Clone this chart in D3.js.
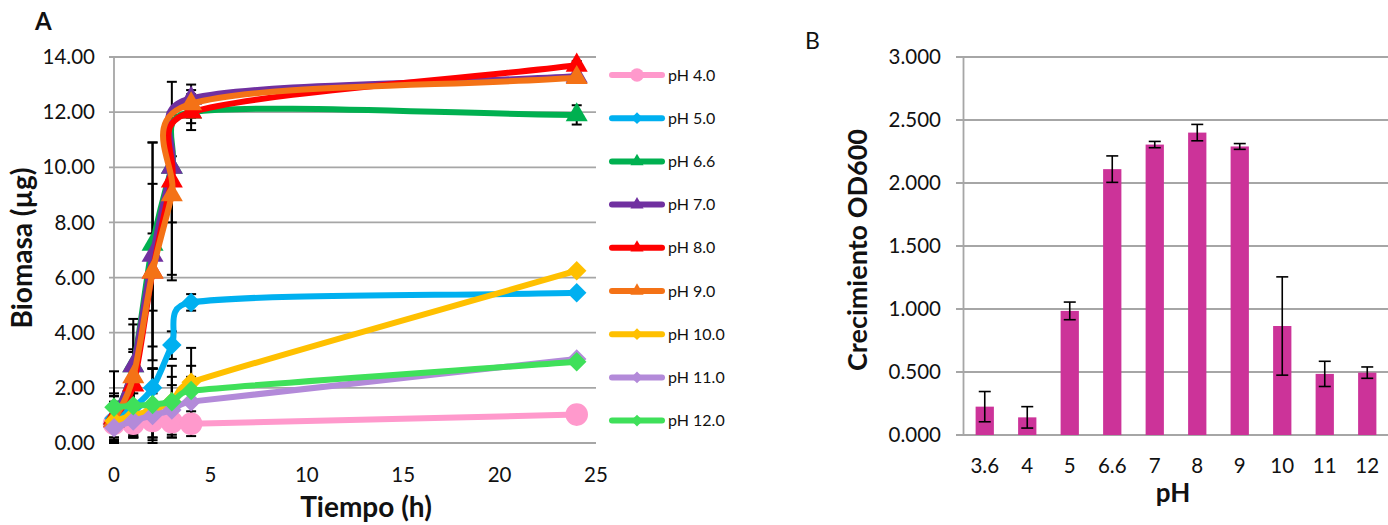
<!DOCTYPE html>
<html>
<head>
<meta charset="utf-8">
<script src="https://cdn.jsdelivr.net/npm/d3@7"></script>
<style>
  body { margin: 0; background: #fff; }
  text { font-family: Lato, "Open Sans", sans-serif; fill: #111; }
</style>
</head>
<body>
<div id="chart"></div>
<script>
// panel A data: biomass over time for each pH
var times = [0, 1, 2, 3, 4, 24];
var seriesNames = ["pH 4.0", "pH 5.0", "pH 6.6", "pH 7.0", "pH 8.0", "pH 9.0", "pH 10.0", "pH 11.0", "pH 12.0"];
var ph40 = [0.70, 0.70, 0.80, 0.75, 0.70, 1.03];
var ph50 = [0.90, 1.30, 2.00, 3.55, 5.10, 5.45];
var ph66 = [0.90, 2.80, 7.20, 10.0, 12.0, 11.9];
var ph70 = [0.80, 2.80, 6.80, 10.0, 12.5, 13.3];
var ph80 = [0.90, 2.10, 6.20, 9.50, 12.0, 13.7];
var ph90 = [0.80, 2.40, 6.20, 9.00, 12.3, 13.25];
var ph100 = [0.80, 1.00, 1.20, 1.50, 2.20, 6.25];
var ph110 = [0.55, 0.80, 1.00, 1.20, 1.50, 3.05];
var ph120 = [1.30, 1.35, 1.40, 1.50, 1.90, 2.95];
var err40 = [0.50, 0.50, 0.60, 0.55, 0.45, 0.10];
var err50 = [0.80, 1.00, 0.70, 0.50, 0.30, 0.10];
var err66 = [0.90, 1.70, 3.70, 2.00, 0.65, 0.35];
var err70 = [0.90, 1.50, 4.10, 0.40, 0.50, 0.10];
var err80 = [0.80, 1.20, 3.20, 3.60, 0.40, 0.15];
var err90 = [0.70, 1.00, 1.40, 2.90, 0.50, 0.10];
var err100 = [0.60, 0.80, 1.50, 0.90, 1.25, 0.10];
var err110 = [0.50, 0.60, 0.80, 0.90, 0.90, 0.10];
var err120 = [1.30, 1.10, 1.30, 1.30, 0.90, 0.10];
var seriesValues = [ph40, ph50, ph66, ph70, ph80, ph90, ph100, ph110, ph120];
var seriesErrors = [err40, err50, err66, err70, err80, err90, err100, err110, err120];
var yTicksA = [0, 2, 4, 6, 8, 10, 12, 14];
var xTicksA = [0, 5, 10, 15, 20, 25];

// panel B data: growth OD600 by pH
var phLabels = ["3.6", "4", "5", "6.6", "7", "8", "9", "10", "11", "12"];
var growth = [0.225, 0.140, 0.985, 2.110, 2.305, 2.400, 2.290, 0.865, 0.485, 0.495];
var growthErr = [0.120, 0.085, 0.070, 0.105, 0.025, 0.065, 0.023, 0.390, 0.100, 0.045];
var yTicksB = [0, 0.5, 1, 1.5, 2, 2.5, 3];

// styles
var colors = ["#ff99cc", "#00b0f0", "#00b050", "#7030a0", "#ff0000", "#f47216", "#ffc000", "#b38ad9", "#3fe05a"];
var shapes = ["circle", "diamond", "triangle", "triangle", "triangle", "triangle", "diamond", "diamond", "diamond"];

var svg = d3.select("#chart").append("svg")
    .attr("width", 1388)
    .attr("height", 525);

var gridColor = "#a6a6a6";

// ---------- panel A ----------
var xA = d3.scaleLinear().domain([0, 25]).range([114, 596]);
var yA = d3.scaleLinear().domain([0, 14]).range([443, 57]);

var gA = svg.append("g");

gA.selectAll(".gridA").data(yTicksA).enter().append("line")
    .attr("x1", xA(0) - 5).attr("x2", xA(25))
    .attr("y1", function(d) { return yA(d); })
    .attr("y2", function(d) { return yA(d); })
    .attr("stroke", gridColor).attr("stroke-width", 1.8);

gA.append("line")
    .attr("x1", xA(0)).attr("x2", xA(0))
    .attr("y1", yA(14)).attr("y2", yA(0))
    .attr("stroke", gridColor).attr("stroke-width", 1.8);

gA.selectAll(".ytA").data(yTicksA).enter().append("text")
    .attr("x", 95).attr("y", function(d) { return yA(d); })
    .attr("dy", "0.35em").attr("text-anchor", "end")
    .attr("font-size", "20.5px")
    .text(function(d) { return d3.format(".2f")(d); });

gA.selectAll(".xtA").data(xTicksA).enter().append("text")
    .attr("x", function(d) { return xA(d); }).attr("y", 475)
    .attr("dy", "0.35em").attr("text-anchor", "middle")
    .attr("font-size", "20.5px")
    .text(function(d) { return d; });

gA.append("text")
    .attr("x", 366).attr("y", 517)
    .attr("text-anchor", "middle")
    .attr("font-size", "28px").attr("font-weight", "bold")
    .text("Tiempo (h)");

gA.append("text")
    .attr("transform", "translate(32,248) rotate(-90)")
    .attr("text-anchor", "middle")
    .attr("font-size", "28px").attr("font-weight", "bold")
    .text("Biomasa (µg)");

gA.append("text")
    .attr("x", 35).attr("y", 30)
    .attr("font-size", "24px").attr("font-weight", "bold")
    .text("A");

// error bars (below the lines)
seriesValues.forEach(function(vals, s) {
    var errs = seriesErrors[s];
    times.forEach(function(t, i) {
        var x = xA(t),
            lo = Math.max(0, vals[i] - errs[i]),
            hi = vals[i] + errs[i];
        gA.append("line")
            .attr("x1", x).attr("x2", x)
            .attr("y1", yA(lo)).attr("y2", yA(hi))
            .attr("stroke", "#000").attr("stroke-width", 2);
        [lo, hi].forEach(function(v) {
            gA.append("line")
                .attr("x1", x - 5).attr("x2", x + 5)
                .attr("y1", yA(v)).attr("y2", yA(v))
                .attr("stroke", "#000").attr("stroke-width", 2);
        });
    });
});

// spreadsheet-like smoothed line: bezier with tangents from neighbours,
// handle length limited by the adjacent segment length
function smoothPath(pts) {
    var n = pts.length, p = d3.path();
    function sub(a, b) { return [a[0] - b[0], a[1] - b[1]]; }
    function len(v) { return Math.sqrt(v[0] * v[0] + v[1] * v[1]); }
    function tangent(i) {
        if (i == 0) return sub(pts[1], pts[0]);
        if (i == n - 1) return sub(pts[n - 1], pts[n - 2]);
        return sub(pts[i + 1], pts[i - 1]);
    }
    function handle(i, segLen) {
        var t = tangent(i), l = len(t) || 1;
        var h = (i == 0 || i == n - 1) ? segLen / 3 : Math.min(l / 6, 0.6 * segLen);
        return [t[0] / l * h, t[1] / l * h];
    }
    p.moveTo(pts[0][0], pts[0][1]);
    for (var i = 0; i < n - 1; i++) {
        var seg = len(sub(pts[i + 1], pts[i]));
        var h1 = handle(i, seg), h2 = handle(i + 1, seg);
        p.bezierCurveTo(pts[i][0] + h1[0], pts[i][1] + h1[1],
            pts[i + 1][0] - h2[0], pts[i + 1][1] - h2[1],
            pts[i + 1][0], pts[i + 1][1]);
    }
    return p.toString();
}

function markerPath(shape, big) {
    var k = big ? 1 : 0.6;
    if (shape == "circle") return d3.symbol().type(d3.symbolCircle).size(400 * k * k)();
    if (shape == "diamond") return d3.symbol().type(d3.symbolSquare).size(190 * k * k)();
    return d3.symbol().type(d3.symbolTriangle).size(210 * k * k)();
}

seriesValues.forEach(function(vals, s) {
    var pts = times.map(function(t, i) { return [t, vals[i]]; });
    gA.append("path")
        .attr("d", smoothPath(pts.map(function(d) { return [xA(d[0]), yA(d[1])]; })))
        .attr("fill", "none")
        .attr("stroke", colors[s])
        .attr("stroke-width", 6)
        .attr("stroke-linecap", "round")
        .attr("stroke-linejoin", "round");
    gA.selectAll(".m" + s).data(pts).enter().append("path")
        .attr("d", markerPath(shapes[s], true))
        .attr("transform", function(d) {
            var rot = shapes[s] == "diamond" ? " rotate(45)" : "";
            return "translate(" + xA(d[0]) + "," + yA(d[1]) + ")" + rot;
        })
        .attr("fill", colors[s]);
});

// legend
var legend = gA.selectAll(".legend").data(seriesNames).enter().append("g")
    .attr("transform", function(d, i) { return "translate(609," + (75 + i * 43.2) + ")"; });

legend.append("line")
    .attr("x1", 3).attr("x2", 53)
    .attr("stroke", function(d, i) { return colors[i]; })
    .attr("stroke-width", 6)
    .attr("stroke-linecap", "round");

legend.append("path")
    .attr("d", function(d, i) { return markerPath(shapes[i], false); })
    .attr("transform", function(d, i) { return "translate(28,0)" + (shapes[i] == "diamond" ? " rotate(45)" : ""); })
    .attr("fill", function(d, i) { return colors[i]; });

legend.append("text")
    .attr("x", 59).attr("dy", "0.35em")
    .attr("font-size", "16px")
    .text(function(d) { return d; });

// ---------- panel B ----------
var xB = d3.scaleBand().domain(phLabels).range([963.5, 1388.5]).paddingInner(0.57).paddingOuter(0.285);
var yB = d3.scaleLinear().domain([0, 3]).range([435, 57]);

var gB = svg.append("g");

gB.selectAll(".gridB").data(yTicksB).enter().append("line")
    .attr("x1", 956).attr("x2", 1388)
    .attr("y1", function(d) { return yB(d); })
    .attr("y2", function(d) { return yB(d); })
    .attr("stroke", gridColor).attr("stroke-width", 1.8);

gB.append("line")
    .attr("x1", 963.5).attr("x2", 963.5)
    .attr("y1", yB(3)).attr("y2", yB(0))
    .attr("stroke", gridColor).attr("stroke-width", 1.8);

gB.selectAll(".ytB").data(yTicksB).enter().append("text")
    .attr("x", 941).attr("y", function(d) { return yB(d); })
    .attr("dy", "0.35em").attr("text-anchor", "end")
    .attr("font-size", "20.5px")
    .text(function(d) { return d3.format(".3f")(d); });

gB.selectAll(".xtB").data(phLabels).enter().append("text")
    .attr("x", function(d) { return xB(d) + xB.bandwidth() / 2; }).attr("y", 466)
    .attr("dy", "0.35em").attr("text-anchor", "middle")
    .attr("font-size", "20.5px")
    .text(function(d) { return d; });

gB.append("text")
    .attr("x", 1173).attr("y", 502)
    .attr("text-anchor", "middle")
    .attr("font-size", "26px").attr("font-weight", "bold")
    .text("pH");

gB.append("text")
    .attr("transform", "translate(867,250) rotate(-90)")
    .attr("text-anchor", "middle")
    .attr("font-size", "27px").attr("font-weight", "bold")
    .text("Crecimiento OD600");

gB.append("text")
    .attr("x", 805).attr("y", 49)
    .attr("font-size", "23px")
    .text("B");

gB.selectAll(".bar").data(phLabels).enter().append("rect")
    .attr("x", function(d) { return xB(d); })
    .attr("width", xB.bandwidth())
    .attr("y", function(d, i) { return yB(growth[i]); })
    .attr("height", function(d, i) { return yB(0) - yB(growth[i]); })
    .attr("fill", "#cc3399");

phLabels.forEach(function(d, i) {
    var cx = xB(d) + xB.bandwidth() / 2,
        lo = growth[i] - growthErr[i],
        hi = growth[i] + growthErr[i];
    gB.append("line")
        .attr("x1", cx).attr("x2", cx)
        .attr("y1", yB(lo)).attr("y2", yB(hi))
        .attr("stroke", "#000").attr("stroke-width", 1.6);
    [lo, hi].forEach(function(v) {
        gB.append("line")
            .attr("x1", cx - 6).attr("x2", cx + 6)
            .attr("y1", yB(v)).attr("y2", yB(v))
            .attr("stroke", "#000").attr("stroke-width", 1.6);
    });
});
</script>
</body>
</html>
